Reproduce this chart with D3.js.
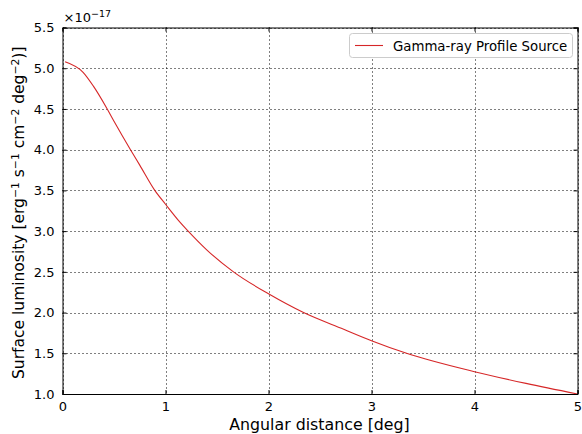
<!DOCTYPE html>
<html>
<head>
<meta charset="utf-8">
<script src="https://cdn.jsdelivr.net/npm/d3@7"></script>
<style>
  html, body { margin: 0; padding: 0; background: #fff; }
  svg { display: block; font-family: "DejaVu Sans", sans-serif; }
</style>
</head>
<body>
<svg id="chart" width="582" height="434"></svg>
<script>
// Radial surface-luminosity profile (values in units of 1e-17)
const distance = [0.025, 0.2, 0.3, 0.434, 0.5, 0.66, 0.75, 0.896, 1.0, 1.14, 1.22, 1.4, 1.66, 2.0, 2.34, 2.73, 3.0, 3.34, 4.0, 4.5, 5.0];
const luminosity = [5.08, 4.95, 4.78, 4.50, 4.35, 4.00, 3.81, 3.50, 3.33, 3.11, 3.00, 2.77, 2.50, 2.23, 2.00, 1.795, 1.655, 1.50, 1.274, 1.13, 1.00];
const xTicks = [0, 1, 2, 3, 4, 5];
const yTicks = [1.0, 1.5, 2.0, 2.5, 3.0, 3.5, 4.0, 4.5, 5.0, 5.5];
const seriesName = "Gamma-ray Profile Source";

const svg = d3.select("#chart");
const m = { left: 62.5, right: 577.5, top: 27.5, bottom: 394 };

const x = d3.scaleLinear().domain([0, 5]).range([m.left, m.right]);
const y = d3.scaleLinear().domain([1.0, 5.5]).range([m.bottom, m.top]);

// dotted grid
const grid = svg.append("g").attr("stroke", "#000").attr("stroke-width", 1)
  .attr("stroke-dasharray", "1,3").attr("fill", "none");
xTicks.forEach(t => grid.append("line")
  .attr("x1", Math.round(x(t)) + 0.5).attr("x2", Math.round(x(t)) + 0.5)
  .attr("y1", m.top).attr("y2", m.bottom));
yTicks.forEach(t => grid.append("line")
  .attr("y1", Math.round(y(t)) + 0.5).attr("y2", Math.round(y(t)) + 0.5)
  .attr("x1", m.left).attr("x2", m.right));

// data line
const line = d3.line().x(d => x(d[0])).y(d => y(d[1])).curve(d3.curveMonotoneX);
svg.append("path")
  .datum(distance.map((d, i) => [d, luminosity[i]]))
  .attr("d", line)
  .attr("fill", "none").attr("stroke", "#d62728").attr("stroke-width", 1.1);

// axes: inward ticks on all four sides
const fmtY = d3.format(".1f");
const axBottom = svg.append("g").attr("transform", `translate(0,${m.bottom})`)
  .call(d3.axisBottom(x).tickValues(xTicks).tickSize(-4).tickPadding(8).tickFormat(d3.format("d")));
const axTop = svg.append("g").attr("transform", `translate(0,${m.top})`)
  .call(d3.axisTop(x).tickValues(xTicks).tickSize(-4).tickFormat(""));
const axLeft = svg.append("g").attr("transform", `translate(${m.left},0)`)
  .call(d3.axisLeft(y).tickValues(yTicks).tickSize(-4).tickPadding(8).tickFormat(fmtY));
const axRight = svg.append("g").attr("transform", `translate(${m.right},0)`)
  .call(d3.axisRight(y).tickValues(yTicks).tickSize(-4).tickFormat(""));
[axBottom, axTop, axLeft, axRight].forEach(g => {
  g.select(".domain").attr("stroke", "#000").attr("stroke-width", 1);
  g.selectAll(".tick line").attr("stroke", "#000");
  g.selectAll("text").attr("font-family", "DejaVu Sans").attr("font-size", 13).attr("fill", "#000");
});

// offset multiplier
const off = svg.append("text").attr("x", m.left + 1).attr("y", 22)
  .attr("font-size", 13).attr("fill", "#000");
off.append("tspan").text("×10");
off.append("tspan").attr("font-size", 9.5).attr("dy", -5).text("−17");

// axis titles
svg.append("text").attr("x", (m.left + m.right) / 2 - 0.5).attr("y", 429.5)
  .attr("text-anchor", "middle").attr("font-size", 15.8).attr("fill", "#000")
  .text("Angular distance [deg]");

const yl = svg.append("text")
  .attr("transform", `translate(24,${(m.top + m.bottom) / 2 + 2}) rotate(-90)`)
  .attr("text-anchor", "middle").attr("font-size", 15.5).attr("fill", "#000");
const sup = (s) => { yl.append("tspan").attr("dy", -5).attr("font-size", 10.8).text(s); };
const base = (s) => { yl.append("tspan").attr("dy", 5).attr("font-size", 15.5).text(s); };
yl.append("tspan").text("Surface luminosity [erg");
sup("−1"); base(" s"); sup("−1"); base(" cm"); sup("−2"); base(" deg"); sup("−2"); base(")]");

// legend
const lg = svg.append("g");
lg.append("rect").attr("x", 349.5).attr("y", 33.5).attr("width", 223).attr("height", 24)
  .attr("rx", 3).attr("fill", "#fff").attr("stroke", "#cccccc");
lg.append("line").attr("x1", 355).attr("x2", 383).attr("y1", 45.5).attr("y2", 45.5)
  .attr("stroke", "#d62728").attr("stroke-width", 1.1);
lg.append("text").attr("x", 393).attr("y", 50.5).attr("font-size", 13.3).attr("fill", "#000")
  .text(seriesName);
</script>
</body>
</html>
